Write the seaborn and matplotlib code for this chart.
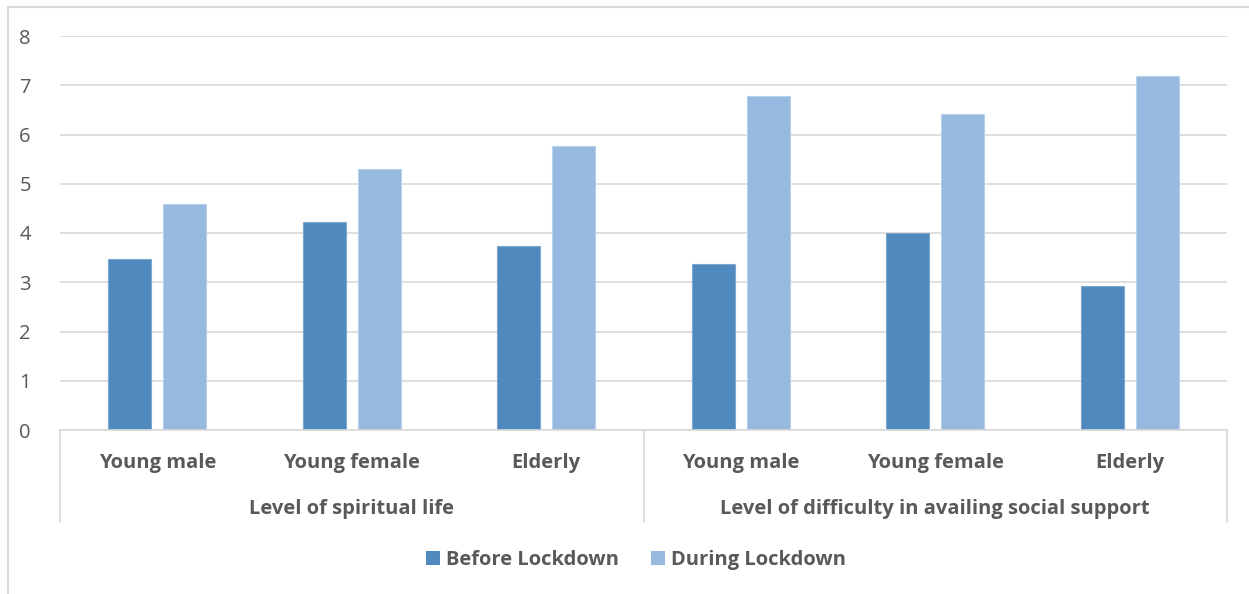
import matplotlib
matplotlib.use("Agg")
import matplotlib.pyplot as plt
from matplotlib.lines import Line2D
from matplotlib.patches import Rectangle
import seaborn as sns
import pandas as pd

# Data
groups = ["Level of spiritual life", "Level of difficulty in availing social support"]
subgroups = ["Young male", "Young female", "Elderly"]
periods = ["Before Lockdown", "During Lockdown"]
before_vals = [3.47, 4.22, 3.74, 3.38, 4.00, 2.92]
during_vals = [4.59, 5.30, 5.77, 6.78, 6.41, 7.19]
yticks = [0, 1, 2, 3, 4, 5, 6, 7, 8]

colors = ["#4F89BD", "#97B9E0"]
edge_colors = ["#7FA8D0", "#B9D0EA"]
text_color = "#595959"
grid_color = "#D9D9D9"

rows = []
keys = []
for gi, g in enumerate(groups):
    for si, s in enumerate(subgroups):
        idx = gi * len(subgroups) + si
        key = f"{g}|{s}"
        keys.append(key)
        rows.append({"key": key, "period": periods[0], "value": before_vals[idx]})
        rows.append({"key": key, "period": periods[1], "value": during_vals[idx]})
df = pd.DataFrame(rows)

sns.set_style("white")
plt.rcParams["font.family"] = ["Open Sans", "DejaVu Sans"]

W, H = 1249, 594
fig = plt.figure(figsize=(W / 100, H / 100), dpi=100)
ax = fig.add_axes([60 / W, (H - 430) / H, (1227 - 60) / W, (430 - 36) / H])

sns.barplot(data=df, x="key", y="value", hue="period", order=keys,
            hue_order=periods, palette=colors, width=0.57, gap=0.225,
            saturation=1, errorbar=None, legend=False, ax=ax, zorder=3)

for i, cont in enumerate(ax.containers):
    for bar in cont:
        bar.set_edgecolor(edge_colors[i])
        bar.set_linewidth(0.8)

ax.set_ylim(0, 8)
ax.set_xlim(-0.5, len(keys) - 0.5)
ax.set_yticks(yticks)
ax.set_yticklabels([str(v) for v in yticks], fontsize=14.5, color=text_color)
ax.tick_params(axis="y", length=0, pad=21)
ax.set_xticks([])
ax.set_xlabel("")
ax.set_ylabel("")
for sp in ["top", "right", "left"]:
    ax.spines[sp].set_visible(False)
ax.spines["bottom"].set_color(grid_color)
ax.spines["bottom"].set_linewidth(1.2)
ax.spines["bottom"].set_zorder(4)
ax.yaxis.grid(True, color=grid_color, linewidth=1.2, zorder=0)
ax.set_axisbelow(True)

# Category axis labels and group separators
label_size = 14.5
trans = ax.get_xaxis_transform()
axis_px = 430 - 36
for i, key in enumerate(keys):
    ax.text(i, -(463 - 430) / axis_px, key.split("|")[1], transform=trans,
            ha="center", va="center", fontsize=label_size, fontweight="bold",
            color=text_color, clip_on=False)
for gi, g in enumerate(groups):
    center = gi * len(subgroups) + (len(subgroups) - 1) / 2
    ax.text(center, -(509 - 430) / axis_px, g, transform=trans,
            ha="center", va="center", fontsize=label_size, fontweight="bold",
            color=text_color, clip_on=False)
for b in [-0.5, 2.5, 5.5]:
    ax.add_line(Line2D([b, b], [0, -(522 - 430) / axis_px], transform=trans,
                       color=grid_color, linewidth=1.2, clip_on=False))

# Legend
handles = [Rectangle((0, 0), 1, 1, facecolor=c, edgecolor="none") for c in colors]
fig.legend(handles, periods, loc="center", bbox_to_anchor=(636 / W, 1 - 560 / H),
           ncol=2, frameon=False, handlelength=0.7,
           handleheight=0.7, handletextpad=0.3, columnspacing=1.6,
           prop={"weight": "bold", "size": label_size}, labelcolor=text_color)

# Chart area border
fig.add_artist(Line2D([8 / W, 8 / W], [0, 1 - 7 / H], transform=fig.transFigure,
                      color=grid_color, linewidth=1.5))
fig.add_artist(Line2D([8 / W, 1], [1 - 7 / H, 1 - 7 / H], transform=fig.transFigure,
                      color=grid_color, linewidth=1.5))

fig.savefig("out.png", dpi=100)
